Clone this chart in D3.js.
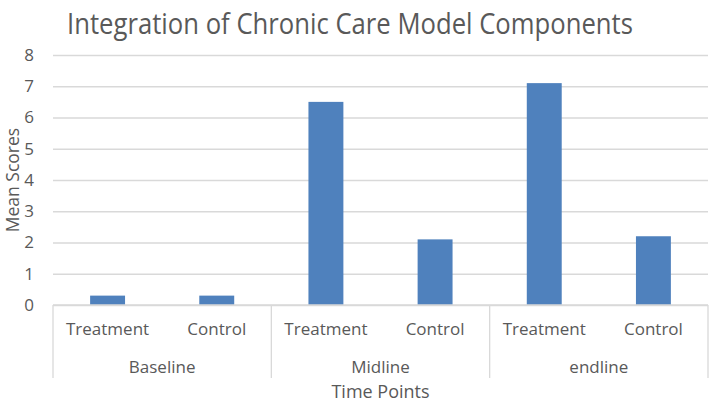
<!DOCTYPE html>
<html>
<head>
<meta charset="utf-8">
<script src="https://cdn.jsdelivr.net/npm/d3@7"></script>
<style>
  body { margin: 0; background: #fff; }
  text { font-family: "Open Sans", sans-serif; fill: #595959; }
</style>
</head>
<body>
<div id="wrapper"></div>
<script>
// data
const groups = ["Baseline", "Midline", "endline"]
const arms = ["Treatment", "Control"]
const treatmentScores = [0.3, 6.5, 7.1]
const controlScores = [0.3, 2.1, 2.2]
const yTicks = [0, 1, 2, 3, 4, 5, 6, 7, 8]

const dataset = []
groups.forEach(function(g, i) {
    dataset.push({group: g, arm: "Treatment", value: treatmentScores[i]})
    dataset.push({group: g, arm: "Control", value: controlScores[i]})
})

const W = 709, H = 403
const margin = {top: 55, right: 1, bottom: 98, left: 53}
const width = W - margin.left - margin.right,
    height = H - margin.top - margin.bottom

const svg = d3.select("#wrapper")
    .append("svg")
    .attr("width", W)
    .attr("height", H)

// title
svg.append("text")
    .attr("x", 350)
    .attr("y", 34)
    .attr("text-anchor", "middle")
    .attr("font-size", 29)
    .attr("textLength", 566)
    .attr("lengthAdjust", "spacingAndGlyphs")
    .text("Integration of Chronic Care Model Components")

const g = svg.append("g")
    .attr("transform", `translate(${margin.left},${margin.top})`)

const x0 = d3.scaleBand()
    .domain(groups)
    .range([0, width])
    .padding(0)
const x1 = d3.scaleBand()
    .domain(arms)
    .range([0, x0.bandwidth()])
    .paddingInner(0.68)
    .paddingOuter(0.34)
const y = d3.scaleLinear()
    .domain([0, 8])
    .range([height, 0])

// gridlines
g.append("g")
    .call(d3.axisLeft(y).tickValues(yTicks).tickSize(-width).tickFormat(""))
    .call(a => a.select(".domain").remove())
    .selectAll(".tick line")
        .attr("stroke", "#d9d9d9")
        .attr("stroke-width", 1.3)

// y tick labels
g.append("g")
    .call(d3.axisLeft(y).tickValues(yTicks).tickSize(0).tickPadding(19))
    .call(a => a.select(".domain").remove())
    .selectAll("text")
        .attr("font-size", 17)
        .attr("fill", "#595959")

// bars
g.selectAll(".bar")
    .data(dataset)
    .enter()
    .append("rect")
        .attr("class", "bar")
        .attr("x", d => x0(d.group) + x1(d.arm))
        .attr("y", d => y(d.value))
        .attr("width", x1.bandwidth())
        .attr("height", d => height - y(d.value))
        .attr("fill", "#4f81bd")

// category axis line
g.append("line")
    .attr("x1", 0).attr("x2", width)
    .attr("y1", height).attr("y2", height)
    .attr("stroke", "#d9d9d9")
    .attr("stroke-width", 1.3)

// group separators
const bounds = groups.map(d => x0(d)).concat([width])
g.selectAll(".sep")
    .data(bounds)
    .enter()
    .append("line")
        .attr("x1", d => d).attr("x2", d => d)
        .attr("y1", height).attr("y2", height + 73)
        .attr("stroke", "#d9d9d9")
        .attr("stroke-width", 1.3)

// arm labels
g.selectAll(".arm")
    .data(dataset)
    .enter()
    .append("text")
        .attr("x", d => x0(d.group) + x1(d.arm) + x1.bandwidth() / 2)
        .attr("y", height + 30)
        .attr("text-anchor", "middle")
        .attr("font-size", 17)
        .text(d => d.arm)

// group labels
g.selectAll(".grp")
    .data(groups)
    .enter()
    .append("text")
        .attr("x", d => x0(d) + x0.bandwidth() / 2)
        .attr("y", height + 68)
        .attr("text-anchor", "middle")
        .attr("font-size", 17)
        .text(d => d)

// axis titles
svg.append("text")
    .attr("x", margin.left + width / 2)
    .attr("y", 398)
    .attr("text-anchor", "middle")
    .attr("font-size", 18)
    .text("Time Points")

svg.append("text")
    .attr("transform", `translate(19,${margin.top + height / 2}) rotate(-90)`)
    .attr("text-anchor", "middle")
    .attr("font-size", 17.5)
    .text("Mean Scores")
</script>
</body>
</html>
